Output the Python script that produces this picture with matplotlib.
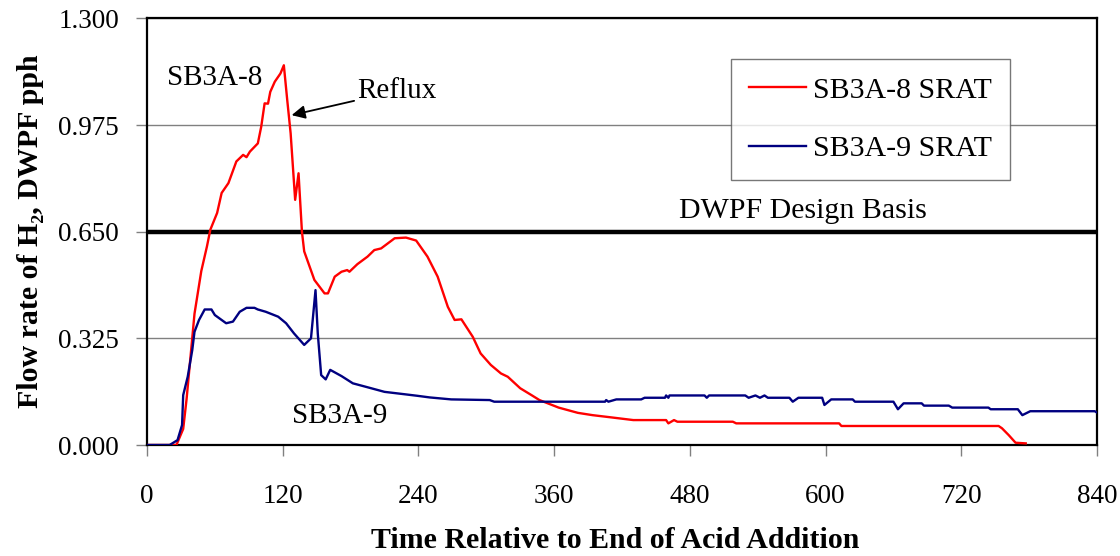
import matplotlib
matplotlib.use("Agg")
import matplotlib.pyplot as plt

plt.rcParams['font.family'] = ['Liberation Serif', 'DejaVu Serif']

# SB3A-8 SRAT (minutes, pph)
sb8_t = [0, 26, 32, 35, 42, 48, 53, 56, 62, 66,
         72, 79, 85, 88, 91, 98, 101, 104, 107, 109,
         113, 118, 121, 124, 127, 131, 134, 137, 139, 148,
         157, 160, 166, 172, 177, 179, 186, 195, 201, 207,
         219, 229, 238, 248, 257, 266, 272, 278, 288, 295,
         304, 313, 319, 330, 340, 347, 364, 381, 394, 411,
         430, 459, 461, 466, 469, 518, 521, 612, 614, 753,
         756, 762, 768, 777]
sb8_h2 = [0.0, 0.0, 0.049, 0.14, 0.40, 0.53, 0.605, 0.656, 0.707, 0.768,
          0.798, 0.864, 0.884, 0.877, 0.894, 0.919, 0.970, 1.041, 1.040, 1.076,
          1.107, 1.132, 1.157, 1.051, 0.950, 0.747, 0.828, 0.650, 0.590, 0.503,
          0.462, 0.462, 0.513, 0.528, 0.533, 0.528, 0.551, 0.574, 0.594, 0.599,
          0.630, 0.632, 0.623, 0.574, 0.513, 0.421, 0.381, 0.383, 0.330, 0.279,
          0.244, 0.218, 0.208, 0.173, 0.152, 0.137, 0.114, 0.098, 0.091, 0.084,
          0.076, 0.076, 0.066, 0.076, 0.071, 0.071, 0.066, 0.066, 0.058, 0.058,
          0.051, 0.030, 0.007, 0.005]

# SB3A-9 SRAT
sb9_t = [0, 20, 27, 31, 32, 36, 40, 42, 46, 51,
         57, 60, 70, 76, 82, 88, 95, 98, 105, 116,
         123, 130, 139, 145, 149, 151, 154, 158, 162, 172,
         182, 195, 210, 227, 239, 250, 269, 303, 307, 405,
         406, 408, 415, 437, 440, 458, 459, 461, 462, 493,
         495, 497, 529, 532, 538, 542, 546, 549, 568, 571,
         576, 597, 599, 605, 624, 626, 660, 664, 669, 685,
         687, 709, 712, 744, 746, 770, 774, 781, 838, 841]
sb9_h2 = [0.0, 0.0, 0.015, 0.061, 0.152, 0.208, 0.289, 0.345, 0.381, 0.413,
          0.413, 0.396, 0.371, 0.376, 0.406, 0.418, 0.418, 0.413, 0.406, 0.391,
          0.371, 0.340, 0.305, 0.325, 0.472, 0.340, 0.213, 0.200, 0.229, 0.210,
          0.188, 0.176, 0.162, 0.155, 0.150, 0.145, 0.139, 0.137, 0.132, 0.132,
          0.137, 0.132, 0.139, 0.139, 0.144, 0.144, 0.151, 0.144, 0.151, 0.151,
          0.144, 0.151, 0.151, 0.144, 0.151, 0.144, 0.151, 0.144, 0.144, 0.132,
          0.144, 0.144, 0.122, 0.139, 0.139, 0.132, 0.132, 0.109, 0.127, 0.127,
          0.120, 0.120, 0.114, 0.114, 0.109, 0.109, 0.091, 0.103, 0.103, 0.097]

design_basis = 0.65
x_ticks = [0, 120, 240, 360, 480, 600, 720, 840]
y_ticks = [0.0, 0.325, 0.65, 0.975, 1.3]

fig = plt.figure(figsize=(11.2, 5.56), dpi=100)
ax = fig.add_axes([0.13125, 0.1996, 0.8482, 0.7674])

for y in y_ticks[1:]:
    ax.axhline(y, color='#808080', lw=1.0, zorder=1)
ax.axhline(design_basis, color='black', lw=3.2, zorder=2)

ax.plot(sb8_t, sb8_h2, color='#ff0000', lw=1.7, label='SB3A-8 SRAT', zorder=3)
ax.plot(sb9_t, sb9_h2, color='#000080', lw=1.7, label='SB3A-9 SRAT', zorder=3)

ax.set_xlim(0, 840)
ax.set_ylim(0, 1.3)
ax.set_xticks(x_ticks)
ax.set_yticks(y_ticks)
ax.set_yticklabels(['%.3f' % v for v in y_ticks])
ax.tick_params(axis='both', direction='out', color='#808080', length=8, width=1,
               labelsize=19.5)
ax.tick_params(axis='x', pad=20)
ax.tick_params(axis='y', pad=12)
for s in ax.spines.values():
    s.set_color('black')
    s.set_linewidth(1.6)

ax.set_xlabel('Time Relative to End of Acid Addition', fontsize=21.5,
              fontweight='bold')
ax.xaxis.set_label_coords(0.493, -0.193)
ax.set_ylabel('Flow rate of H₂, DWPF pph', fontsize=21.5, fontweight='bold',
              labelpad=10)

ax.text(60, 1.097, 'SB3A-8', fontsize=21, ha='center', va='baseline')
ax.text(170.6, 0.067, 'SB3A-9', fontsize=21, ha='center', va='baseline')
ax.text(580, 0.691, 'DWPF Design Basis', fontsize=21.5, ha='center', va='baseline')
ax.annotate('Reflux', xy=(127.9, 1.005), xytext=(185.6, 1.057), fontsize=21,
            ha='left', va='baseline',
            arrowprops=dict(arrowstyle='-|>', color='black', lw=1.3,
                            mutation_scale=20, shrinkA=0, shrinkB=0))

leg = ax.legend(loc='upper left', bbox_to_anchor=(0.615, 0.905), fontsize=21.5,
                frameon=True, fancybox=False, handlelength=1.9,
                handletextpad=0.25, labelspacing=1.05, borderpad=0.6,
                borderaxespad=0)
leg.get_frame().set_edgecolor('#555555')
leg.get_frame().set_linewidth(1.0)

fig.savefig('out.png', dpi=100)
